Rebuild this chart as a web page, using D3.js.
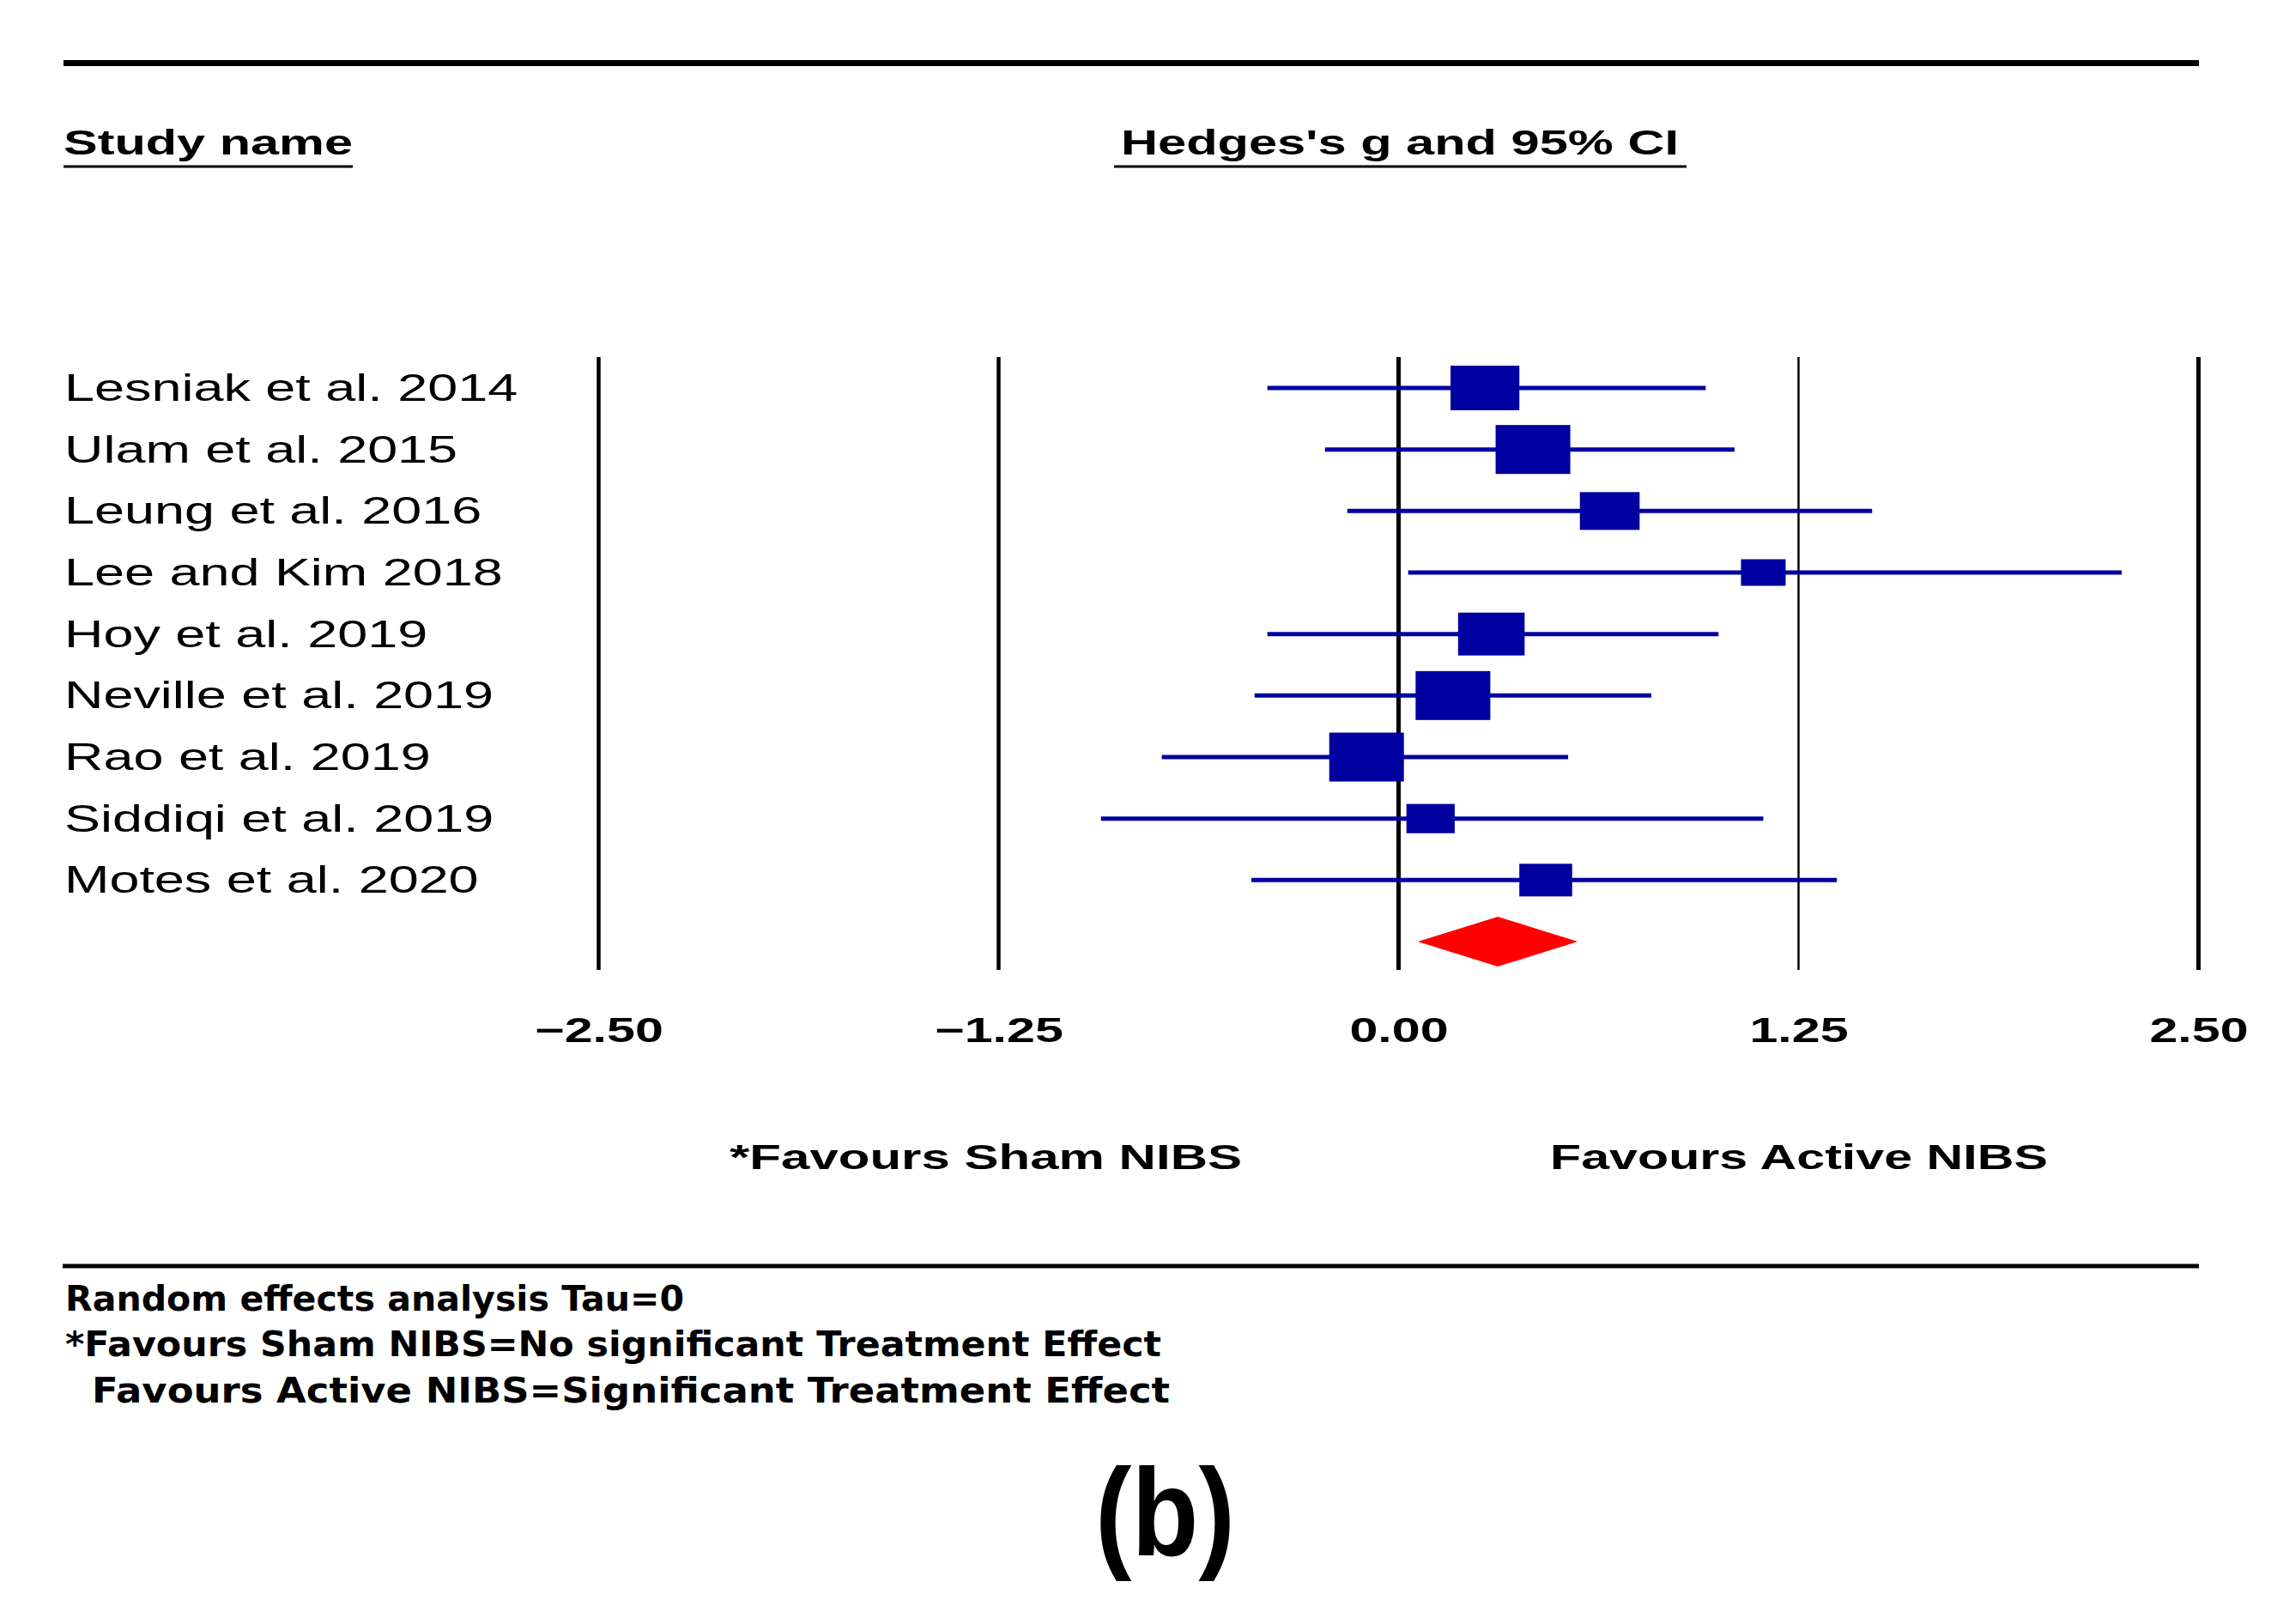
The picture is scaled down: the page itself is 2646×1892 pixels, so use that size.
<!DOCTYPE html>
<html>
<head>
<meta charset="utf-8">
<script src="https://cdn.jsdelivr.net/npm/d3@7/dist/d3.min.js"></script>
<style>
  html, body { margin: 0; padding: 0; background: #ffffff; }
  svg { display: block; }
</style>
</head>
<body>
<svg id="chart" width="2646" height="1892"></svg>
<script>
// ---------------- DATA ----------------
const studies = [
  "Lesniak et al. 2014",
  "Ulam et al. 2015",
  "Leung et al. 2016",
  "Lee and Kim 2018",
  "Hoy et al. 2019",
  "Neville et al. 2019",
  "Rao et al. 2019",
  "Siddiqi et al. 2019",
  "Motes et al. 2020"
];
const hedgesG  = [0.27, 0.42, 0.66, 1.14, 0.29, 0.17, -0.10, 0.10, 0.46];
const lowerCI  = [-0.41, -0.23, -0.16, 0.03, -0.41, -0.45, -0.74, -0.93, -0.46];
const upperCI  = [0.96, 1.05, 1.48, 2.26, 1.00, 0.79, 0.53, 1.14, 1.37];
const relWeight = [13.2, 15.9, 9.5, 4.7, 12.2, 15.9, 15.9, 5.7, 7.1];
const overallG = 0.31;
const overallLower = 0.06;
const overallUpper = 0.56;
const xTicks = [-2.5, -1.25, 0, 1.25, 2.5];

const headerStudy = "Study name";
const headerEffect = "Hedges's g and 95% CI";
const favoursLeft = "*Favours Sham NIBS";
const favoursRight = "Favours Active NIBS";
const notes = [
  "Random effects analysis Tau=0",
  "*Favours Sham NIBS=No significant Treatment Effect",
  "Favours Active NIBS=Significant Treatment Effect"
];
const panelLabel = "(b)";

// ---------------- LAYOUT ----------------
const svg = d3.select("#chart");
const W = 2646, H = 1892;
svg.append("rect").attr("width", W).attr("height", H).attr("fill", "#fff");

const BLUE = "#0000A0";
const RED = "#FF0000";
const SANS = "Arial, 'Liberation Sans', Helvetica, sans-serif";

const x = d3.scaleLinear().domain([-2.5, 2.5]).range([697.5, 2561.5]);
const rowKeys = studies.concat(["__overall__"]);
const y = d3.scalePoint().domain(rowKeys).range([452, 1097]);
const boxH = d3.scaleSqrt().domain([0, 15.9]).range([0, 57]);

function fixedText(str, px, py, opt) {
  const t = svg.append("text")
    .attr("x", px).attr("y", py)
    .attr("font-family", opt.family || SANS)
    .attr("font-size", opt.size)
    .attr("font-weight", opt.weight || "normal")
    .attr("text-anchor", opt.anchor || "start")
    .attr("fill", "#000")
    .text(str);
  if (opt.width) {
    t.attr("textLength", opt.width).attr("lengthAdjust", "spacingAndGlyphs");
  }
  return t;
}

// top rule
svg.append("line").attr("x1", 74).attr("x2", 2562).attr("y1", 73.5).attr("y2", 73.5)
  .attr("stroke", "#000").attr("stroke-width", 7);

// headers
fixedText(headerStudy, 74, 180, {size: 40, weight: "bold", width: 337});
svg.append("line").attr("x1", 74).attr("x2", 411).attr("y1", 194).attr("y2", 194)
  .attr("stroke", "#000").attr("stroke-width", 3);
fixedText(headerEffect, 1306, 180, {size: 40, weight: "bold", width: 650});
svg.append("line").attr("x1", 1298).attr("x2", 1965).attr("y1", 194).attr("y2", 194)
  .attr("stroke", "#000").attr("stroke-width", 3);

// vertical reference lines
const refWidth = [4.5, 4.5, 5, 2.5, 5];
svg.append("g").selectAll("line").data(xTicks).join("line")
  .attr("x1", d => x(d)).attr("x2", d => x(d))
  .attr("y1", 416).attr("y2", 1130)
  .attr("stroke", "#000")
  .attr("stroke-width", (d, i) => refWidth[i]);

// study labels
svg.append("g").selectAll("text").data(studies).join("text")
  .attr("transform", d => `translate(75,${y(d) + 15}) scale(1.43,1)`)
  .attr("font-family", SANS)
  .attr("font-size", 44)
  .attr("fill", "#000")
  .text(d => d);

// CI lines
const rows = studies.map((s, i) => ({s, g: hedgesG[i], lo: lowerCI[i], hi: upperCI[i], w: relWeight[i]}));
svg.append("g").selectAll("line").data(rows).join("line")
  .attr("x1", d => x(d.lo)).attr("x2", d => x(d.hi))
  .attr("y1", d => y(d.s)).attr("y2", d => y(d.s))
  .attr("stroke", BLUE).attr("stroke-width", 5);

// weight boxes
svg.append("g").selectAll("rect").data(rows).join("rect")
  .attr("x", d => { const h = boxH(d.w); const bw = 1.346 * h + 10.3; return x(d.g) - bw / 2; })
  .attr("y", d => y(d.s) - boxH(d.w) / 2)
  .attr("width", d => 1.346 * boxH(d.w) + 10.3)
  .attr("height", d => boxH(d.w))
  .attr("fill", BLUE);

// summary diamond
const yd = y("__overall__");
svg.append("path")
  .attr("d", `M${x(overallLower)},${yd} L${x(overallG)},${yd - 29} L${x(overallUpper)},${yd} L${x(overallG)},${yd + 29} Z`)
  .attr("fill", RED);

// x axis tick labels
const axis = d3.axisBottom(x).tickValues(xTicks).tickSize(0).tickFormat(d3.format(".2f"));
const ag = svg.append("g").attr("transform", "translate(0,1214)").call(axis);
ag.select(".domain").remove();
ag.selectAll("text")
  .attr("y", 0).attr("dy", 0)
  .attr("font-family", SANS)
  .attr("font-size", 40)
  .attr("font-weight", "bold")
  .attr("fill", "#000")
  .attr("transform", "scale(1.48,1)");

// favours labels
fixedText(favoursLeft, 850, 1362, {size: 40, weight: "bold", width: 597});
fixedText(favoursRight, 1806, 1362, {size: 40, weight: "bold", width: 580});

// middle rule
svg.append("line").attr("x1", 73).attr("x2", 2562).attr("y1", 1475).attr("y2", 1475)
  .attr("stroke", "#000").attr("stroke-width", 5);

// notes
const NOTEFONT = "'DejaVu Sans', Verdana, sans-serif";
fixedText(notes[0], 76, 1527, {size: 40, weight: "bold", width: 721, family: NOTEFONT});
fixedText(notes[1], 76, 1580, {size: 40, weight: "bold", width: 1277, family: NOTEFONT});
fixedText(notes[2], 107, 1634, {size: 40, weight: "bold", width: 1256, family: NOTEFONT});

// panel label
fixedText(panelLabel, 1276, 1812, {size: 145, weight: "bold", width: 163});
</script>
</body>
</html>
